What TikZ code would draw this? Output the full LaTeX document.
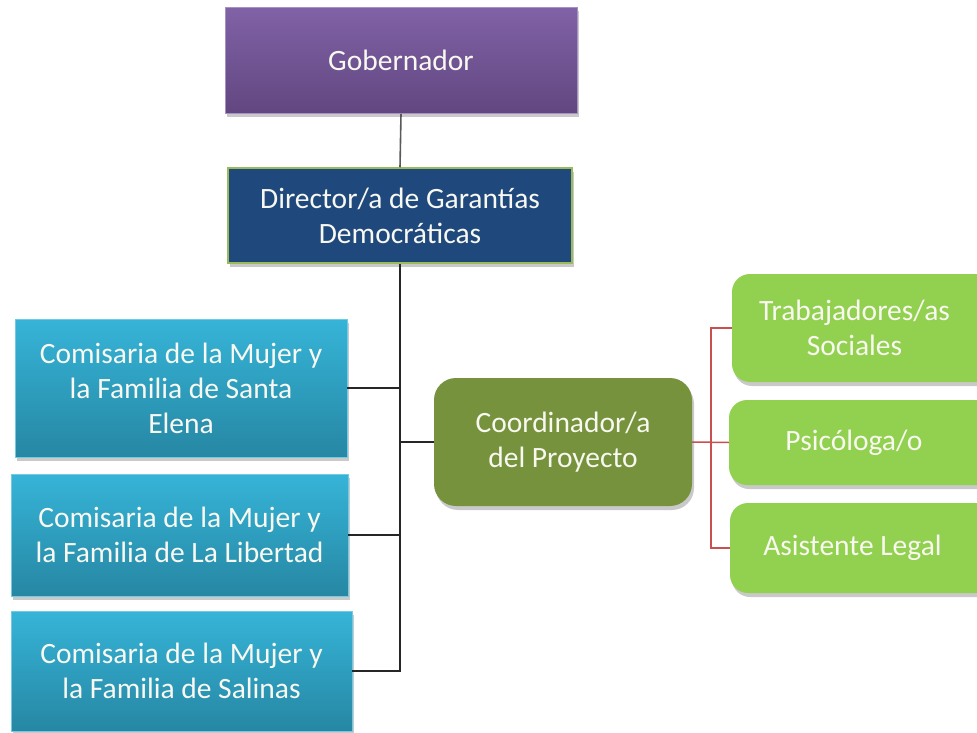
\documentclass[tikz,border=0pt]{standalone}
\usepackage{fontspec}
\setmainfont{Carlito}
\usetikzlibrary{shadows}
\definecolor{gobtop}{RGB}{128,98,166}
\definecolor{gobbot}{RGB}{98,70,128}
\definecolor{dirfill}{RGB}{31,73,125}
\definecolor{dirborder}{RGB}{155,187,89}
\definecolor{comtop}{RGB}{54,180,216}
\definecolor{combot}{RGB}{38,135,163}
\definecolor{coordfill}{RGB}{118,146,60}
\definecolor{leaffill}{RGB}{146,208,80}
\definecolor{redline}{RGB}{200,80,80}
\definecolor{txt}{RGB}{248,248,240}
\tikzset{
  base/.style={align=center, text=txt, inner sep=0pt,
    font=\fontsize{29.5}{35}\selectfont,
    drop shadow={shadow xshift=2pt, shadow yshift=-4pt, opacity=0.35, fill=black!60}},
  gobbox/.style={base, top color=gobtop, bottom color=gobbot, draw=gobtop!70!white, line width=0.6pt},
  dirbox/.style={base, fill=dirfill, draw=dirborder, line width=1.5pt},
  combox/.style={base, top color=comtop, bottom color=combot, draw=comtop!70!white, line width=0.6pt},
  coordbox/.style={base, fill=coordfill, rounded corners=22pt},
  leafbox/.style={base, fill=leaffill, rounded corners=18pt},
  blk/.style={draw=black!85, line width=1.6pt},
  gry/.style={draw=black!65, line width=1.6pt},
  red/.style={draw=redline, line width=1.5pt}
}
\begin{document}
\begin{tikzpicture}[x=1pt,y=-1pt]
\clip (0,0) rectangle (977,733);
\fill[white] (0,0) rectangle (977,733);
\node[gobbox, minimum width=352pt, minimum height=106pt] (gob) at (401,60.5) {Gobernador};
\node[dirbox, minimum width=344pt, minimum height=95pt] (dir) at (400,215.5) {Director/a de Garantías\\Democráticas};
\node[combox, minimum width=332pt, minimum height=138pt] (com1) at (181,388) {Comisaria de la Mujer y\\la Familia de Santa\\Elena};
\node[combox, minimum width=337pt, minimum height=122pt] (com2) at (179.5,535) {Comisaria de la Mujer y\\la Familia de La Libertad};
\node[combox, minimum width=341pt, minimum height=120pt] (com3) at (181.5,671) {Comisaria de la Mujer y\\la Familia de Salinas};
\node[coordbox, minimum width=258pt, minimum height=128pt] (coord) at (563,442) {Coordinador/a\\del Proyecto};
\node[leafbox, minimum width=270pt, minimum height=108pt] (trab) at (867,328) {\hspace*{-25pt}Trabajadores/as\\\hspace*{-25pt}Sociales};
\node[leafbox, minimum width=270pt, minimum height=85pt] (psi) at (864,442.5) {\hspace*{-20pt}Psicóloga/o};
\node[leafbox, minimum width=270pt, minimum height=90pt] (asis) at (865,548) {\hspace*{-25pt}Asistente Legal};
\coordinate (rt) at (711,0);
% black connectors
\draw[gry] (gob.south) -- (dir.north);
\draw[blk] (dir.south) -- (dir.south |- com3.east) -- (com3.east);
\draw[blk] (com1.east) -- (com1.east -| dir.south);
\draw[blk] (com2.east) -- (com2.east -| dir.south);
\draw[blk] (coord.west) -- (coord.west -| dir.south);
% red connectors
\draw[red] (coord.east) -- (psi.west);
\draw[red] (trab.west) -- (rt |- trab.west) -- (rt |- asis.west) -- (asis.west);
\end{tikzpicture}
\end{document}
